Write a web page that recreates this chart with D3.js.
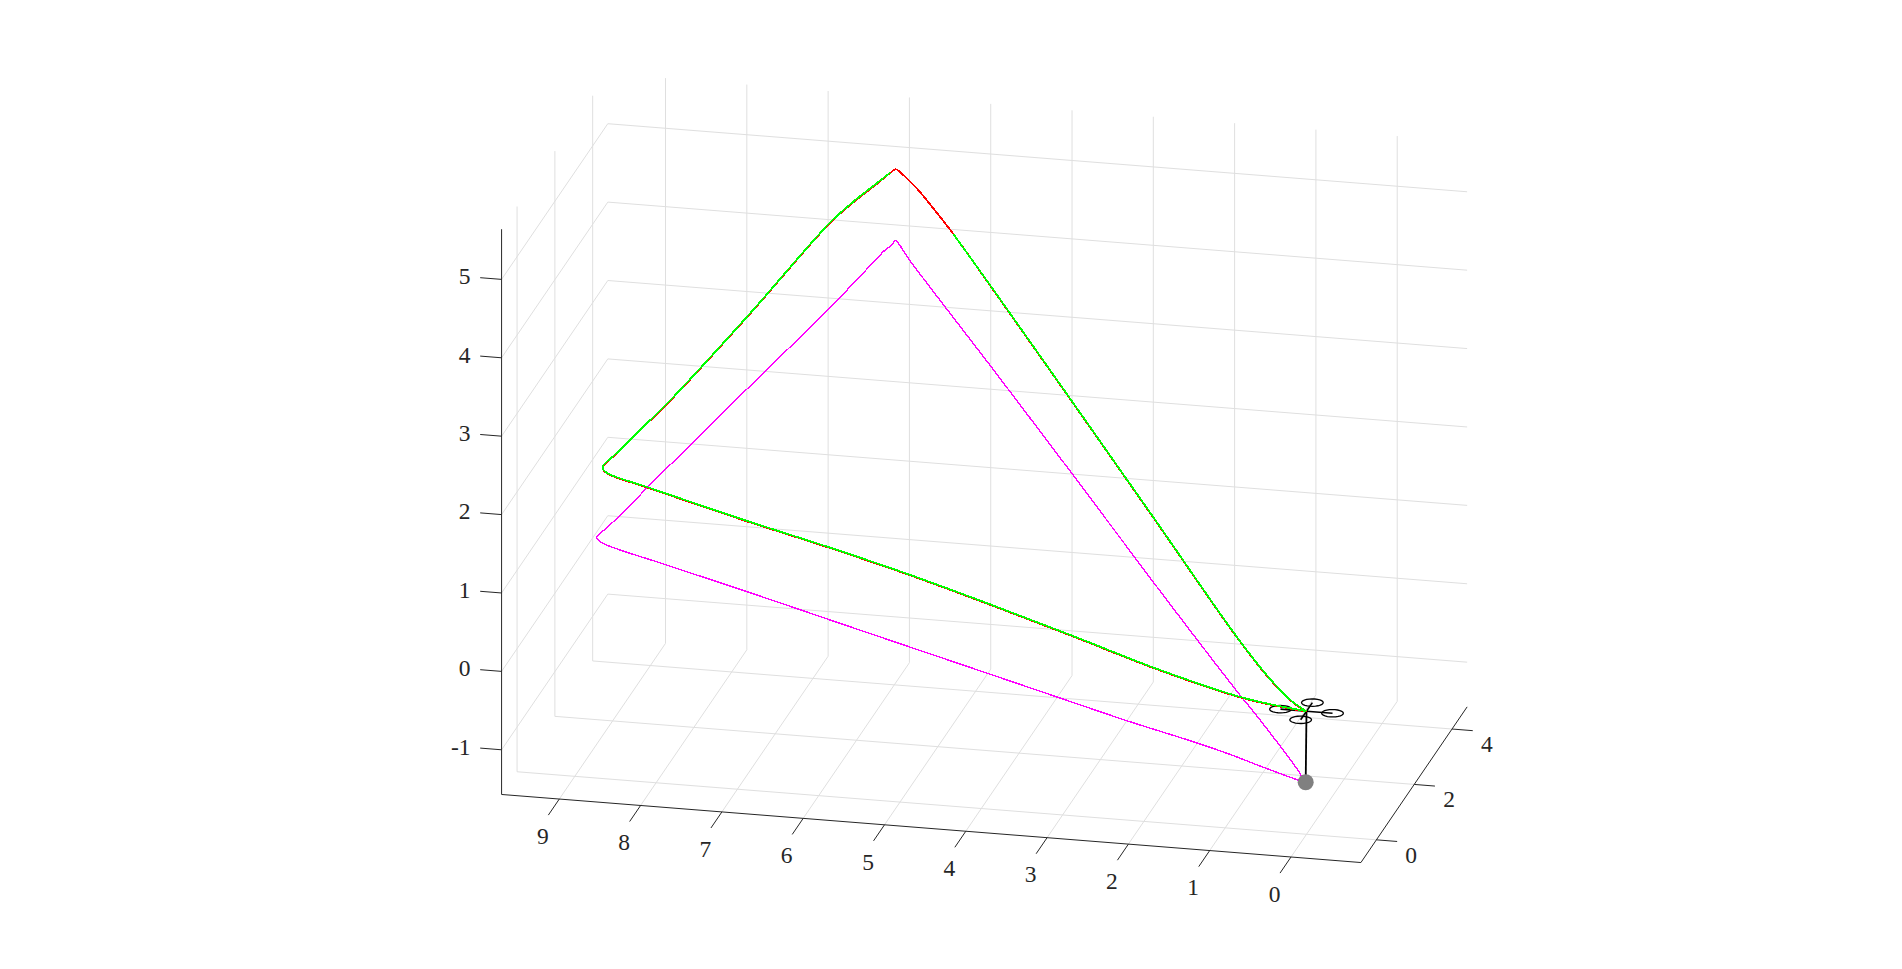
<!DOCTYPE html>
<html>
<head>
<meta charset="utf-8">
<style>html,body{margin:0;padding:0;background:#fff;overflow:hidden}svg{display:block}</style>
<script src="https://cdn.jsdelivr.net/npm/d3@7/dist/d3.min.js"></script>
</head>
<body>
<svg id="c" width="1902" height="969"></svg>
<script>
// Axis limits and ticks
const xLim = [-0.86, 9.71];
const yLim = [-0.82, 4.8];
const zLim = [-1.57, 5.64];
const xTicks = [0, 1, 2, 3, 4, 5, 6, 7, 8, 9];
const yTicks = [0, 2, 4];
const zTicks = [-1, 0, 1, 2, 3, 4, 5];

// Flown trajectory [x, y, z]
const greenOut = [[0,0,0],[0.50,0,0.06],[0.867,0,0.126],[1.87,0,0.398],[2.87,0,0.723],[3.87,0,1.037],[4.87,0,1.337],[5.87,0,1.608],[6.88,0,1.861],[8.10,0,2.19],[8.58,0,2.32],[8.645,0,2.366],[8.657,0,2.407],
  [8.514,0.21,2.537],[8.285,0.55,2.754],[8.076,0.87,2.944],[7.333,1.98,3.74],[6.588,3.09,4.59],[6.369,3.42,4.768],[6.156,3.74,4.907],[6.034,3.92,4.987]];
const greenBack = [[5.144,3.44,4.449],[4.584,3.066,3.945],[3.396,2.272,2.847],[2.212,1.479,1.747],[1.037,0.695,0.644],[0.581,0.389,0.277],[0.241,0.163,0.07],[0,0,0]];
// Reference trajectory [x, y, z]
const redPath = [[0,0,-0.006],[0.50,0,0.054],[0.867,0,0.12],[1.87,0,0.392],[2.87,0,0.717],[3.87,0,1.031],[4.87,0,1.331],[5.87,0,1.602],[6.88,0,1.855],[8.10,0,2.184],[8.58,0,2.314],[8.645,0,2.36],[8.657,0,2.401],
  [8.514,0.21,2.531],[8.285,0.55,2.748],[8.076,0.87,2.938],[7.333,1.98,3.734],[6.588,3.09,4.584],[6.369,3.42,4.758],[6.156,3.74,4.897],[6.034,3.92,4.982],[5.983,4,5.008],
  [5.872,3.926,4.969],[5.677,3.796,4.862],[5.435,3.634,4.684],[5.144,3.44,4.449],[4.584,3.066,3.939],[3.396,2.272,2.841],[2.212,1.479,1.741],[1.037,0.695,0.638],[0.581,0.389,0.271],[0.241,0.163,0.064],[0,0,-0.006]];
// Shadow trajectory [x, y, z]
const magentaPath = [[0.025,0,-0.903],[0.08,0,-0.893],[0.531,0,-0.759],[0.941,0,-0.628],[1.392,0,-0.504],[2.171,0,-0.313],[2.873,0,-0.124],[3.873,0,0.147],[4.872,0,0.416],[5.866,0,0.684],[6.883,0,0.96],[7.871,0,1.218],[8.69,0,1.448],[8.73,0,1.501],
  [8.624,0.155,1.591],[8.097,0.924,2.094],[7.343,2.023,2.801],[6.594,3.116,3.496],[6.204,3.684,3.893],[6.082,3.862,4.018],[6.021,3.952,4.055],[5.988,4,4.096],
  [5.943,3.971,4.077],[5.798,3.873,3.932],[4.583,3.058,2.927],[3.394,2.26,1.932],[2.208,1.464,0.925],[1.033,0.676,-0.042],[0.673,0.435,-0.32],[0.09,0.044,-0.815],[0.025,0,-0.903]];

// Quadrotor [x, y, z]
const droneCentre = [0.0, 0.0, 0.0];
const droneBase = [0.01, 0, -0.907];
const rotorCentres = [[0.32,0,0],[-0.32,0,0],[0,0.31,0],[0,-0.31,0]];
const rotorRadius = 0.13;

// Orthographic view: each data axis maps to a screen offset vector
const sx = d3.scaleLinear().domain([0, 1]).range([[0, 0], [-81.3, -6.44]]);
const sy = d3.scaleLinear().domain([0, 1]).range([[0, 0], [18.9, -27.7]]);
const sz = d3.scaleLinear().domain([0, 1]).range([[0, 0], [0, -78.4]]);
const origin = [1306.5, 711.2];
function P(p) {
  const a = sx(p[0]), b = sy(p[1]), c = sz(p[2]);
  return [origin[0] + a[0] + b[0] + c[0], origin[1] + a[1] + b[1] + c[1]];
}

const svg = d3.select("#c");
const line3 = d3.line().x(d => P(d)[0]).y(d => P(d)[1]);
const curve3 = d3.line().x(d => P(d)[0]).y(d => P(d)[1]).curve(d3.curveCatmullRom.alpha(0.5));
const AX = "#262626", GRID = "#dfdfdf", FONT = "'Liberation Serif', serif", FS = 23.5;

// Grid
const grid = svg.append("g").attr("fill", "none").attr("stroke", GRID).attr("stroke-width", 1);
function seg(a, b) { grid.append("path").attr("d", line3([a, b])); }
xTicks.forEach(x => {
  seg([x, yLim[0], zLim[0]], [x, yLim[1], zLim[0]]);
  seg([x, yLim[1], zLim[0]], [x, yLim[1], zLim[1]]);
});
yTicks.forEach(y => {
  seg([xLim[0], y, zLim[0]], [xLim[1], y, zLim[0]]);
  seg([xLim[1], y, zLim[0]], [xLim[1], y, zLim[1]]);
});
zTicks.forEach(z => {
  seg([xLim[0], yLim[1], z], [xLim[1], yLim[1], z]);
  seg([xLim[1], yLim[1], z], [xLim[1], yLim[0], z]);
});

// Axes
const ax = svg.append("g").attr("fill", "none").attr("stroke", AX).attr("stroke-width", 1);
function axl(a, b) { ax.append("path").attr("d", line3([a, b])); }
axl([xLim[1], yLim[0], zLim[0]], [xLim[0], yLim[0], zLim[0]]);
axl([xLim[0], yLim[0], zLim[0]], [xLim[0], yLim[1], zLim[0]]);
axl([xLim[1], yLim[0], zLim[0]], [xLim[1], yLim[0], zLim[1]]);
xTicks.forEach(x => axl([x, yLim[0], zLim[0]], [x, yLim[0] - 0.58, zLim[0]]));
yTicks.forEach(y => axl([xLim[0], y, zLim[0]], [xLim[0] - 0.255, y, zLim[0]]));
zTicks.forEach(z => axl([xLim[1], yLim[0], z], [xLim[1] + 0.263, yLim[0], z]));

// Tick labels
const labels = svg.append("g").attr("font-family", FONT).attr("font-size", FS).attr("fill", AX);
function lab(p, dx, dy, t, anchor) {
  const q = P(p);
  labels.append("text").attr("x", q[0] + dx).attr("y", q[1] + dy)
    .attr("text-anchor", anchor).attr("dominant-baseline", "central").text(t);
}
xTicks.forEach(x => lab([x, yLim[0], zLim[0]], -16.5, 36.7, String(x), "middle"));
yTicks.forEach(y => lab([xLim[0], y, zLim[0]], 34.8, 15, String(y), "middle"));
zTicks.forEach(z => lab([xLim[1], yLim[0], z], -31, -3.2, String(z), "end"));

// Quadrotor
const drone = svg.append("g").attr("fill", "none").attr("stroke", "#000").attr("stroke-width", 1.3);
drone.append("path").attr("d", line3([droneCentre, droneBase])).attr("stroke-width", 1.8);
rotorCentres.forEach(c => {
  drone.append("path").attr("d", line3([droneCentre, c])).attr("stroke-width", 1.6);
  const angles = d3.range(0, 361, 15).map(d => d * Math.PI / 180);
  drone.append("path").attr("d", line3(angles.map(t => [c[0] + rotorRadius * Math.cos(t), c[1] + rotorRadius * Math.sin(t), c[2]])));
});

// Trajectories
const traj = svg.append("g").attr("fill", "none").attr("stroke-linejoin", "round").attr("shape-rendering", "crispEdges");
traj.append("path").attr("d", curve3(magentaPath)).attr("stroke", "#ff00ff").attr("stroke-width", 1.4);
traj.append("path").attr("d", curve3(redPath)).attr("stroke", "#ff0000").attr("stroke-width", 1.8);
traj.append("path").attr("d", curve3(greenOut)).attr("stroke", "#00ff00").attr("stroke-width", 1.8);
traj.append("path").attr("d", curve3(greenBack)).attr("stroke", "#00ff00").attr("stroke-width", 1.8);

// Ground marker
const b = P(droneBase);
svg.append("circle").attr("cx", b[0]).attr("cy", b[1]).attr("r", 8).attr("fill", "#808080");
</script>
</body>
</html>
